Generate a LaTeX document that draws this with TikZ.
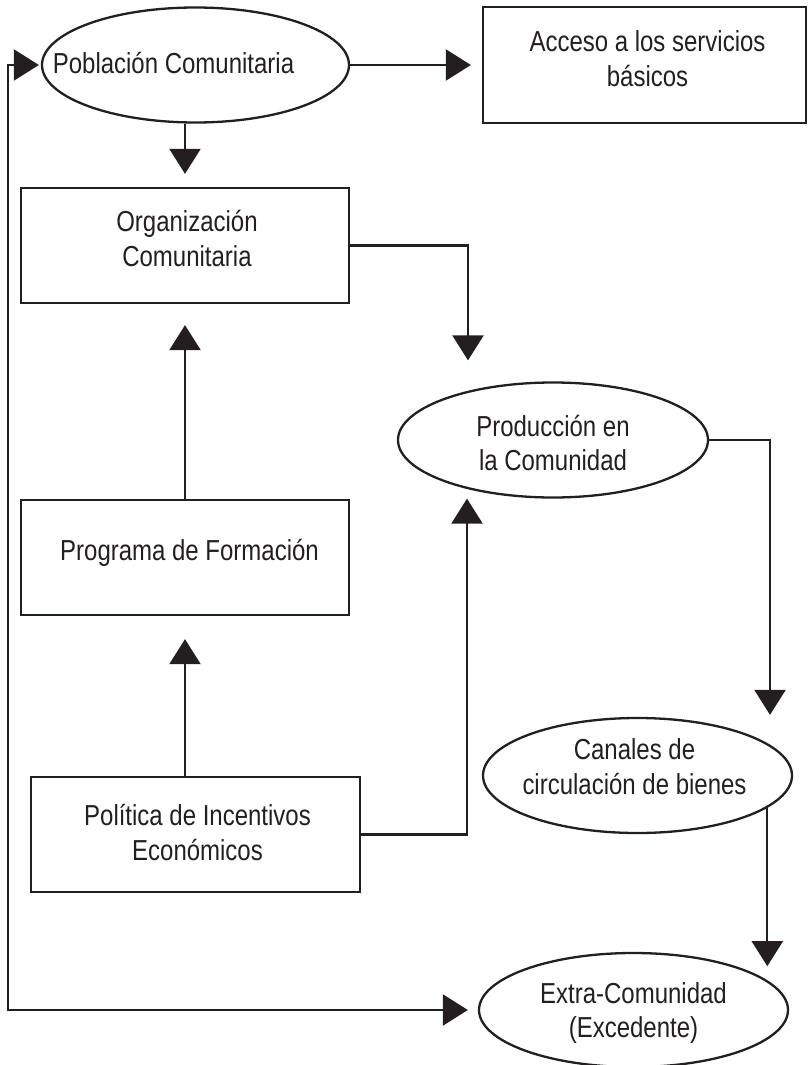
\documentclass[tikz,border=0pt]{standalone}
\usepackage{fontspec}
\setmainfont{Liberation Sans}[FakeStretch=0.83]
\usetikzlibrary{arrows.meta,shapes.geometric}
\definecolor{ink}{HTML}{231F20}
\begin{document}
\begin{tikzpicture}[x=1pt,y=-1pt,
  bigtri/.tip={Triangle[length=25pt,width=31pt]},
  every node/.style={text=ink, font=\fontsize{28.9pt}{34.5pt}\selectfont},
  box/.style={draw=ink, line width=2.3pt, rectangle, inner sep=0pt},
  oval/.style={draw=ink, line width=2.3pt, ellipse, inner sep=0pt},
  txt/.style={align=center, inner sep=0pt},
  conn/.style={draw=ink, line width=2.3pt, -bigtri},
]
\useasboundingbox (0,0) rectangle (808,1065);

% shapes
\node[oval, minimum width=307pt, minimum height=115pt,
  label={[txt, name=pobt, xshift=-22pt, yshift=2pt]center:Población Comunitaria}] (pob) at (195.5,65) {};
\node[box, minimum width=323pt, minimum height=116pt,
  label={[txt, name=acct, xshift=3pt, yshift=6.5pt]center:Acceso a los servicios\\básicos}] (acc) at (644.5,65) {};
\node[box, minimum width=328pt, minimum height=115pt,
  label={[txt, name=orgt, xshift=2pt, yshift=7pt]center:Organización\\Comunitaria}] (org) at (185,245.5) {};
\node[oval, minimum width=310pt, minimum height=115pt,
  label={[txt, name=prodt, yshift=-3pt]center:Producción en\\la Comunidad}] (prod) at (553,440) {};
\node[box, minimum width=328pt, minimum height=115pt,
  label={[txt, name=progt, xshift=4.5pt, yshift=5pt]center:Programa de Formación}] (prog) at (185,557.5) {};
\node[box, minimum width=329pt, minimum height=115pt,
  label={[txt, name=polt, xshift=2pt, yshift=2pt]center:Política de Incentivos\\Económicos}] (pol) at (195.5,834.5) {};
\node[oval, minimum width=309pt, minimum height=115pt,
  label={[txt, name=cant, xshift=-3pt, yshift=9pt]center:Canales de\\circulación de bienes}] (can) at (637.5,775.5) {};
\node[oval, minimum width=309pt, minimum height=114pt,
  label={[txt, name=extt, yshift=-3pt]center:Extra-Comunidad\\(Excedente)}] (ext) at (633.5,1010) {};

\coordinate (lft) at (8,540);

% connectors
\draw[conn, shorten >=11pt] (pob.east) -- (acc.west);
\draw[conn, shorten >=13pt] (org.north |- pob.south) -- (org.north);
\draw[conn, shorten >=21pt] (org.east) -| ([xshift=-85pt]prod.north);
\draw[conn, shorten >=21pt] (prog.north) -- (org.south);
\draw[conn, shorten >=23pt] (prog.south |- pol.north) -- (prog.south);
\draw[conn] (pol.east) -| ([xshift=-86pt]prod.south);
\draw[conn, shorten >=2pt] (prod.east) -| ([xshift=132.5pt]can.north);
\draw[conn, shorten >=17pt] (can.346.8) -- (can.346.8 |- ext.11.8);
\draw[draw=ink, line width=2.3pt, bigtri-bigtri, shorten <=2pt, shorten >=10pt]
  (pob.west) -| (lft) |- (ext.west);
\end{tikzpicture}
\end{document}
